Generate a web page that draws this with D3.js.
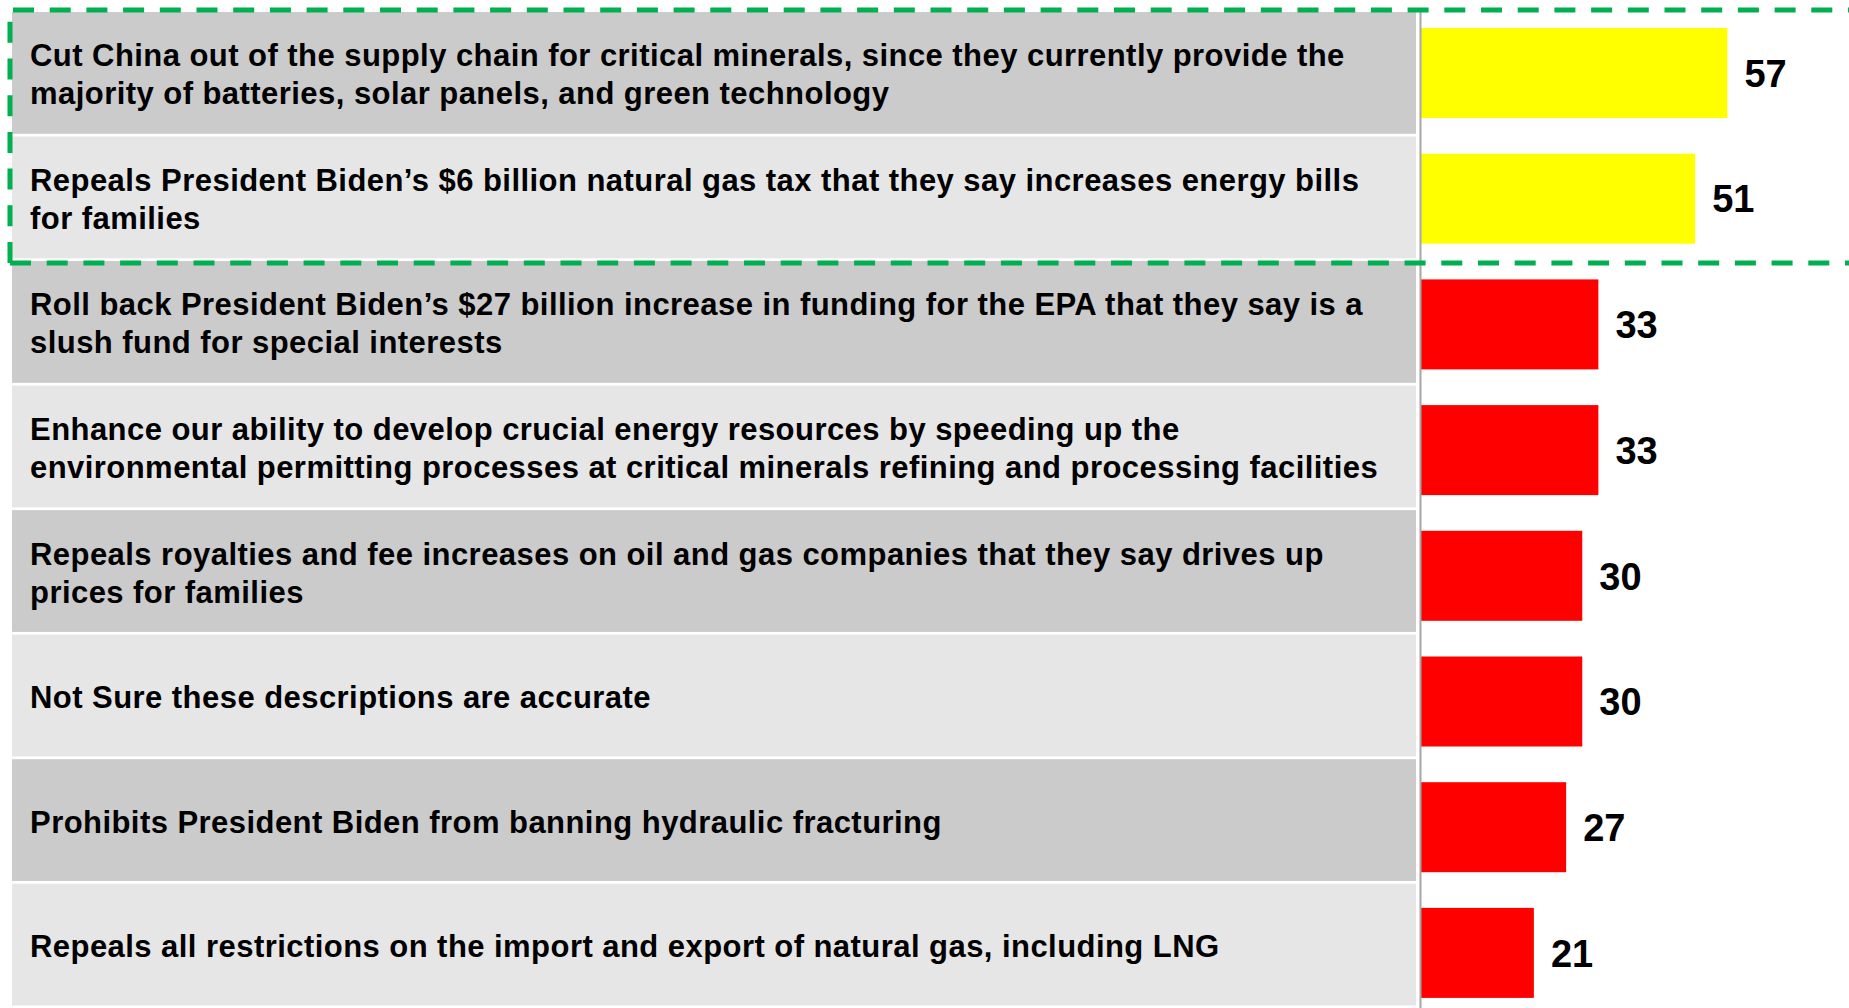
<!DOCTYPE html>
<html>
<head>
<meta charset="utf-8">
<script src="https://cdn.jsdelivr.net/npm/d3@7"></script>
<style>
  html, body { margin: 0; padding: 0; background: #ffffff; overflow: hidden; }
  svg { display: block; }
  text { font-family: "Liberation Sans", Arial, Helvetica, sans-serif; font-weight: bold; }
</style>
</head>
<body>
<svg id="chart" width="1849" height="1008"></svg>
<script>
// ---- data ----
const statements = [
  ["Cut China out of the supply chain for critical minerals, since they currently provide the", "majority of batteries, solar panels, and green technology"],
  ["Repeals President Biden\u2019s $6 billion natural gas tax that they say increases energy bills", "for families"],
  ["Roll back President Biden\u2019s $27 billion increase in funding for the EPA that they say is a", "slush fund for special interests"],
  ["Enhance our ability to develop crucial energy resources by speeding up the", "environmental permitting processes at critical minerals refining and processing facilities"],
  ["Repeals royalties and fee increases on oil and gas companies that they say drives up", "prices for families"],
  ["Not Sure these descriptions are accurate"],
  ["Prohibits President Biden from banning hydraulic fracturing"],
  ["Repeals all restrictions on the import and export of natural gas, including LNG"]
];
const values = [57, 51, 33, 33, 30, 30, 27, 21];
const highlightThreshold = [50];

// ---- layout ----
const W = 1849, H = 1008;
const axisX = 1420;
const svg = d3.select("#chart");
const idx = d3.range(values.length);

const rowY = d3.scaleBand().domain(idx).range([12, 1005.5]).paddingInner(0.022);
const barY = d3.scaleBand().domain(idx).range([-7.7, 1033.6]).padding(0.284);
const x = d3.scaleLinear().domain([0, 80]).range([axisX + 1, axisX + 1 + 430]);
const color = d3.scaleThreshold().domain(highlightThreshold).range(["#FF0000", "#FFFF00"]);

// row backgrounds
svg.append("g").selectAll("rect").data(idx).join("rect")
  .attr("x", 12).attr("width", 1416 - 12)
  .attr("y", i => rowY(i)).attr("height", rowY.bandwidth())
  .attr("fill", i => i % 2 === 0 ? "#CBCBCB" : "#E6E6E6");

// row labels
const fs = 31, lh = 38;
const lbl = svg.append("g").selectAll("text").data(idx).join("text")
  .attr("x", 30)
  .attr("font-size", fs)
  .attr("letter-spacing", 0.45)
  .attr("fill", "#000");
lbl.each(function(i) {
  const lines = statements[i];
  const cy = rowY(i) + rowY.bandwidth() / 2;
  d3.select(this).selectAll("tspan").data(lines).join("tspan")
    .attr("x", 30)
    .attr("y", (d, k) => cy + 12.5 + (k - (lines.length - 1) / 2) * lh)
    .text(d => d);
});

// bars
svg.append("g").selectAll("rect").data(idx).join("rect")
  .attr("x", x(0)).attr("y", i => barY(i))
  .attr("width", i => x(values[i]) - x(0))
  .attr("height", barY.bandwidth())
  .attr("fill", i => color(values[i]));

// value labels
svg.append("g").selectAll("text").data(idx).join("text")
  .attr("x", i => x(values[i]) + 17)
  .attr("y", i => barY(i) + barY.bandwidth() / 2 + 13.7)
  .attr("font-size", 38)
  .attr("fill", "#000")
  .text(i => values[i]);

// axis line
const yAxis = d3.axisLeft(d3.scaleLinear().range([9, H])).ticks(0).tickSize(0).tickFormat("");
svg.append("g").attr("transform", `translate(${axisX},0)`).call(yAxis)
  .select(".domain").attr("stroke", "#A6A6A6").attr("stroke-width", 2);

// dashed highlight box
const boxTop = 10, boxBottom = 263, boxLeft = 10;
const dash = { stroke: "#00B050", "stroke-width": 5, "stroke-dasharray": "21,15.7", fill: "none" };
function dline(x1, y1, x2, y2, off) {
  const l = svg.append("line").attr("x1", x1).attr("y1", y1).attr("x2", x2).attr("y2", y2)
    .attr("stroke-dashoffset", off);
  Object.entries(dash).forEach(([k, v]) => l.attr(k, v));
}
dline(boxLeft, boxTop, W + 10, boxTop, -3);
dline(boxLeft, boxBottom, boxLeft, boxTop, 0);
dline(boxLeft, boxBottom, W + 10, boxBottom, 0);
</script>
</body>
</html>
